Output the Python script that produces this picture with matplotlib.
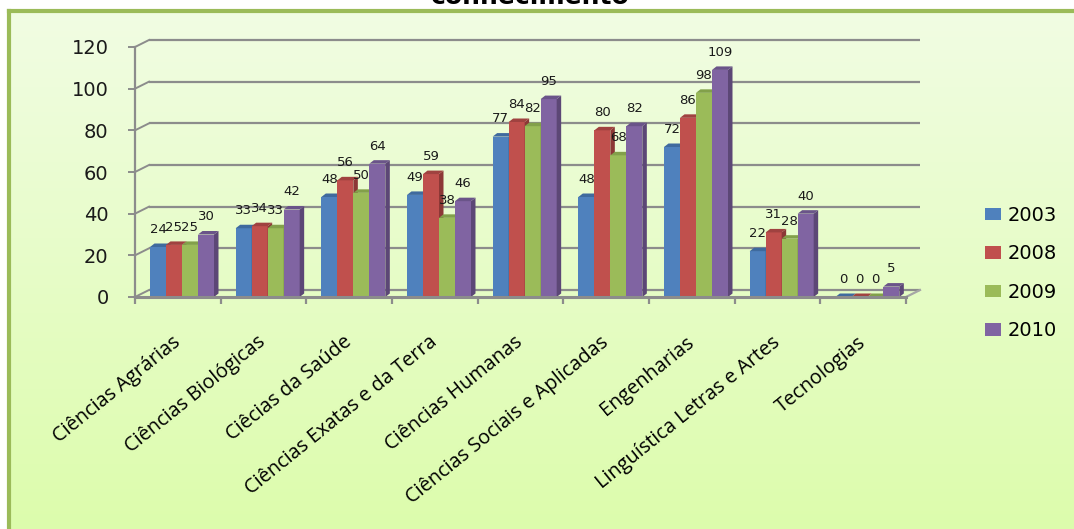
import numpy as np
import matplotlib
matplotlib.use("Agg")
import matplotlib.pyplot as plt
from matplotlib.patches import Polygon
from matplotlib.colors import LinearSegmentedColormap

categories = ["Ciências Agrárias", "Ciências Biológicas", "Ciêcias da Saúde",
              "Ciências Exatas e da Terra", "Ciências Humanas",
              "Ciências Sociais e Aplicadas", "Engenharias",
              "Linguística Letras e Artes", "Tecnologias"]
years = ["2003", "2008", "2009", "2010"]
v2003 = [24, 33, 48, 49, 77, 48, 72, 22, 0]
v2008 = [25, 34, 56, 59, 84, 80, 86, 31, 0]
v2009 = [25, 33, 50, 38, 82, 68, 98, 28, 0]
v2010 = [30, 42, 64, 46, 95, 82, 109, 40, 5]
series = [v2003, v2008, v2009, v2010]
yticks = [0, 20, 40, 60, 80, 100, 120]

front = ["#4f81bd", "#c0504d", "#9bbb59", "#8064a2"]
side = ["#385d8a", "#8c3836", "#71893f", "#5c4776"]
topc = ["#3f6a9e", "#a04240", "#82a04a", "#6a5489"]

W, H = 1074, 529
fig = plt.figure(figsize=(W / 100, H / 100), dpi=100, facecolor="white")

# background panel with gradient and green border (right/bottom edges lie outside)
bg = fig.add_axes([9 / W, -0.02, 1.05 - 9 / W, (H - 11) / H + 0.02])
grad = np.linspace(0, 1, 256).reshape(-1, 1)
cmap = LinearSegmentedColormap.from_list("g", ["#f1fde3", "#dcfcab"])
bg.imshow(grad, aspect="auto", cmap=cmap, extent=[0, 1, 0, 1], origin="upper")
bg.set_xticks([]); bg.set_yticks([])
for s in ["right", "bottom"]:
    bg.spines[s].set_visible(False)
for s in ["left", "top"]:
    bg.spines[s].set_color("#9bbb59")
    bg.spines[s].set_linewidth(3)

fig.text(530 / W, 1 - 3.5 / H, "conhecimento", ha="center", va="baseline",
         fontsize=18, fontweight="bold", color="black")

# main axes (front plane)
ax = fig.add_axes([135 / W, (H - 297) / H, 771 / W, 250 / H])
ax.patch.set_alpha(0)
ax.set_xlim(-0.5, 8.5)
ax.set_ylim(0, 120)
for s in ax.spines.values():
    s.set_visible(False)

cat_px = 771 / 9.0
val_px = 250 / 120.0
dx = 14 / cat_px
dy = 7 / val_px
grid_c = "#8c8c8c"

# back wall gridlines with diagonal connectors
for v in yticks:
    ax.plot([-0.5 + dx, 8.5 + dx], [v + dy, v + dy], color=grid_c, lw=1.6,
            clip_on=False, zorder=1, solid_capstyle="butt")
    ax.plot([-0.5, -0.5 + dx], [v, v + dy], color=grid_c, lw=1.4,
            clip_on=False, zorder=1)
# floor right diagonal and front edge
ax.plot([8.5, 8.5 + dx], [0, dy], color="#a6a6a6", lw=1.6, clip_on=False, zorder=1)
ax.plot([-0.5, 8.5], [0, 0], color=grid_c, lw=2.2, clip_on=False, zorder=5)
ax.plot([-0.5, -0.5], [0, 120], color=grid_c, lw=1.6, clip_on=False, zorder=5)

# 3D-like bars
bw = 16 / cat_px
bdx = 4.5 / cat_px
bdy = 3.5 / val_px
start = 15 / cat_px
x = np.arange(len(categories))
for j, vals in enumerate(series):
    xl = x - 0.5 + start + j * bw
    ax.bar(xl, vals, width=bw, align="edge", color=front[j], zorder=3,
           label=years[j], linewidth=0)
    for xi, h in zip(xl, vals):
        ax.add_patch(Polygon([(xi + bw, 0), (xi + bw + bdx, bdy),
                              (xi + bw + bdx, h + bdy), (xi + bw, h)],
                             closed=True, facecolor=side[j], lw=0, zorder=3))
        ax.add_patch(Polygon([(xi, h), (xi + bdx, h + bdy),
                              (xi + bw + bdx, h + bdy), (xi + bw, h)],
                             closed=True, facecolor=topc[j], lw=0, zorder=3))
        ax.annotate(str(h), (xi + bw / 2, h), xytext=(0, 8),
                    textcoords="offset points", ha="center", va="bottom",
                    fontsize=9.5, color="#1a1a1a", zorder=6,
                    annotation_clip=False)

# ticks
ax.set_yticks(yticks)
ax.set_yticklabels([str(t) for t in yticks], fontsize=14, color="#1a1a1a",
                   family="DejaVu Sans")
ax.tick_params(axis="y", length=5, width=1.4, color=grid_c, pad=14)
ax.set_xticks(x)
ax.set_xticklabels(categories, rotation=39, rotation_mode="anchor",
                   ha="right", va="center", fontsize=14.3, family="Open Sans",
                   color="black")
ax.tick_params(axis="x", which="major", length=0, pad=31)
ax.set_xticks(np.arange(-0.5, 9.0, 1.0), minor=True)
ax.tick_params(axis="x", which="minor", length=5, width=1.6, color=grid_c)

leg = ax.legend(loc="upper left", bbox_to_anchor=(985 / W, 1 - 206 / H),
                bbox_transform=fig.transFigure, frameon=False,
                prop={"family": "DejaVu Sans", "size": 14},
                handlelength=0.82, handleheight=0.62, handletextpad=0.36,
                labelspacing=1.0, borderpad=0, borderaxespad=0)

fig.savefig("out.png", dpi=100, facecolor="white")
